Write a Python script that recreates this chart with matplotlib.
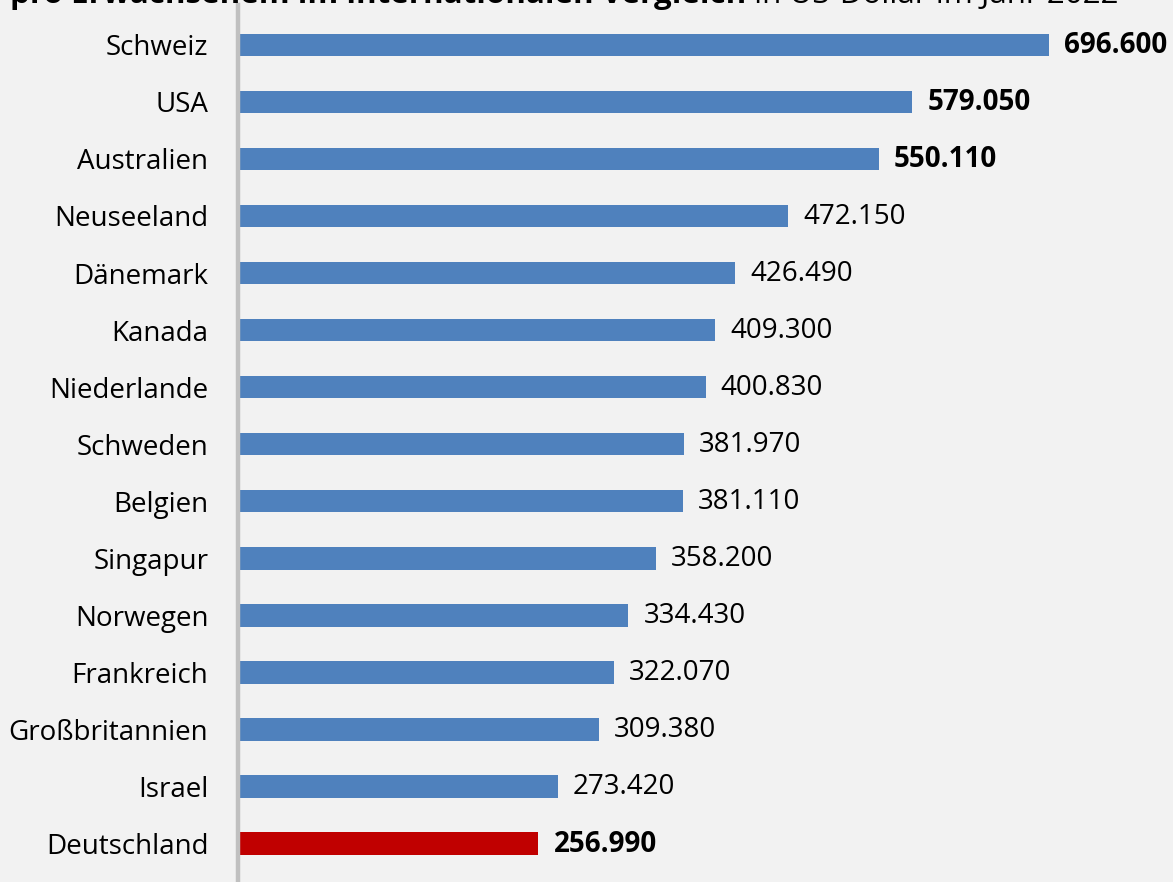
import matplotlib
matplotlib.use("Agg")
import matplotlib.pyplot as plt

countries = ["Schweiz", "USA", "Australien", "Neuseeland", "Dänemark", "Kanada",
             "Niederlande", "Schweden", "Belgien", "Singapur", "Norwegen",
             "Frankreich", "Großbritannien", "Israel", "Deutschland"]
values = [696600, 579050, 550110, 472150, 426490, 409300, 400830, 381970,
          381110, 358200, 334430, 322070, 309380, 273420, 256990]
bold_labels = ["Schweiz", "USA", "Australien", "Deutschland"]
highlight = "Deutschland"
title_bold = "pro Erwachsenem im internationalen Vergleich"
title_normal = " in US-Dollar im Jahr 2022"

FONT = "Open Sans"
BG = "#F2F2F2"
W, H = 1173, 882
fig = plt.figure(figsize=(W / 100, H / 100), dpi=100, facecolor=BG)
ax = fig.add_axes([240 / W, 0, (W - 240) / W, (H - 5) / H], facecolor=BG)

for s in ["top", "right", "bottom"]:
    ax.spines[s].set_visible(False)
ax.spines["left"].set_color("#C0C0C0")
ax.spines["left"].set_linewidth(3.2)
ax.spines["left"].set_position(("outward", 1.8))

ypos = list(range(len(countries)))
colors = ["#C00000" if c == highlight else "#4F81BD" for c in countries]
ax.barh(ypos, values, height=0.40, color=colors)
ax.set_ylim(14.68, -0.70)
scale = (1049 - 240) / 696600
ax.set_xlim(0, (W - 240) / scale)

ax.set_xticks([])
ax.set_yticks(ypos)
ax.set_yticklabels(countries, fontsize=20, family=FONT, color="#000000")
ax.tick_params(axis="y", length=0, pad=21)

for y, v, c in zip(ypos, values, countries):
    txt = f"{v:,}".replace(",", ".")
    ax.annotate(txt, (v, y), xytext=(15, -1), textcoords="offset pixels",
                va="center", ha="left", fontsize=20, family=FONT,
                fontweight="bold" if c in bold_labels else "normal", annotation_clip=False)

t1 = fig.text(10 / W, 1 - 3 / H, title_bold, fontsize=22.6, family=FONT, fontweight="bold",
              va="baseline", ha="left")
fig.canvas.draw()
bb = t1.get_window_extent()
fig.text(bb.x1 / W, 1 - 3 / H, title_normal, fontsize=22.6, family=FONT,
         va="baseline", ha="left")

fig.savefig("out.png", dpi=100, facecolor=BG)
